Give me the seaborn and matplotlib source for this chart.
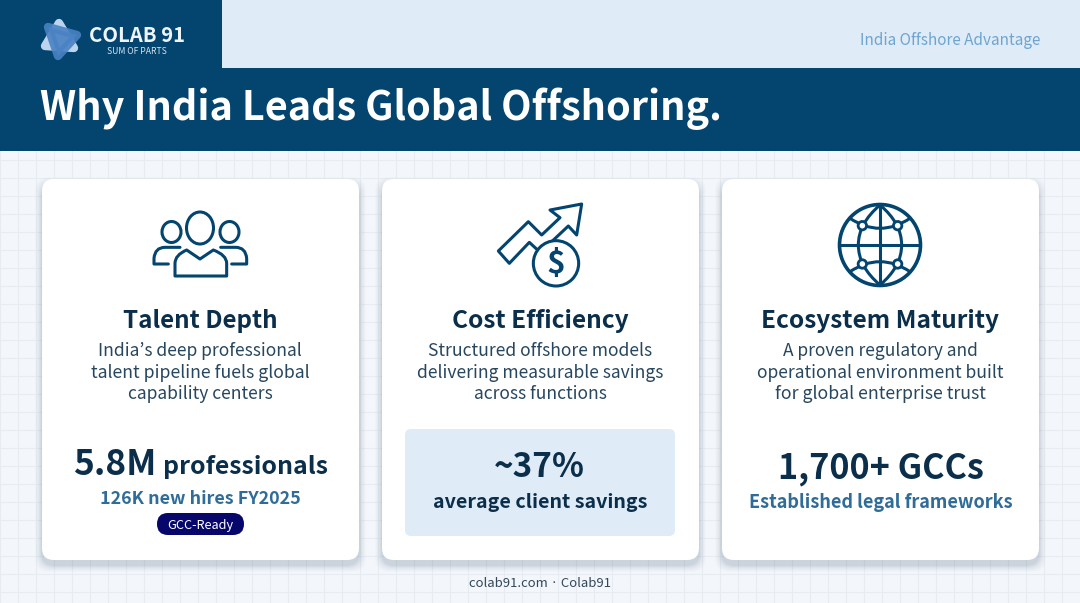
# -*- coding: utf-8 -*-
import numpy as np
import seaborn as sns
import matplotlib
matplotlib.use("Agg")
import matplotlib.pyplot as plt
from matplotlib.patches import FancyBboxPatch, Rectangle, Polygon, Circle, Ellipse, PathPatch
from matplotlib.path import Path

# slide texts
brand = "COLAB 91"
brand_sub = "SUM OF PARTS"
tag = "India Offshore Advantage"
title = "Why India Leads Global Offshoring."
footer = "colab91.com · Colab91"

headings = ["Talent Depth", "Cost Efficiency", "Ecosystem Maturity"]
descriptions = [
    ["India’s deep professional", "talent pipeline fuels global", "capability centers"],
    ["Structured offshore models", "delivering measurable savings", "across functions"],
    ["A proven regulatory and", "operational environment built", "for global enterprise trust"],
]
stat_big = "5.8M"
stat_unit = "professionals"
stat_hires = "126K new hires FY2025"
badge = "GCC-Ready"
stat_savings = "~37%"
stat_savings_note = "average client savings"
stat_gcc = "1,700+ GCCs"
stat_gcc_note = "Established legal frameworks"

NAVY = "#03456f"
INK = "#0b2f4b"
MID = "#2f6c98"

sns.set_theme(style="white")
plt.rcParams["font.family"] = ["Noto Sans CJK KR", "DejaVu Sans"]

fig = plt.figure(figsize=(10.8, 6.03), dpi=100, facecolor="#f3f6fa")
ax = fig.add_axes([0, 0, 1, 1])
ax.set_xlim(0, 1080)
ax.set_ylim(603, 0)
ax.axis("off")
renderer = fig.canvas.get_renderer()


def put(s, x, y, width, color, weight="normal", ha="center"):
    # write text on a baseline and scale it to the pixel width measured on the slide
    t = ax.text(x, y, s, color=color, fontweight=weight, ha=ha, va="baseline", fontsize=20, zorder=10)
    w = t.get_window_extent(renderer).width
    t.set_fontsize(20 * width / w)
    return t


def curve(points, lw=2.2, color=NAVY, ox=0, oy=0, scale=1 / 3, closed=False, face="none", z=6):
    # points: (x, y) corners, or ("c", x1, y1, x2, y2) quadratic piece
    verts, codes = [], []
    for i, p in enumerate(points):
        if p[0] == "c":
            verts += [(ox + p[1] * scale, oy + p[2] * scale), (ox + p[3] * scale, oy + p[4] * scale)]
            codes += [Path.CURVE3, Path.CURVE3]
        else:
            verts.append((ox + p[0] * scale, oy + p[1] * scale))
            codes.append(Path.MOVETO if i == 0 else Path.LINETO)
    if closed:
        verts.append(verts[0])
        codes.append(Path.CLOSEPOLY)
    ax.add_patch(PathPatch(Path(verts, codes), fc=face, ec=color, lw=lw, capstyle="round", joinstyle="round", zorder=z))


# background grid
for gx in np.arange(0, 1080, 18):
    ax.axvline(gx, color="#e7ecf2", lw=0.8, zorder=0)
for gy in np.arange(160, 603, 18):
    ax.axhline(gy, color="#e7ecf2", lw=0.8, zorder=0)

# header
ax.add_patch(Rectangle((0, 0), 1080, 151, fc=NAVY, ec="none", zorder=1))
ax.add_patch(Rectangle((222, 0), 858, 68, fc="#dfebf7", ec="none", zorder=2))
put(tag, 1040, 45, 181, "#6ea5d0", ha="right")
put(title, 40, 120, 682, "white", weight="bold", ha="left")
put(brand, 89, 42, 96, "#eef4fa", weight="bold", ha="left")
put(brand_sub, 136.5, 54, 60, "#d5e3f0", weight="normal")

# logo
ax.add_patch(Polygon([(59, 23), (45, 46), (74, 48)], closed=True, fc="#bcd4ee", ec="#bcd4ee", lw=6, joinstyle="round", zorder=3))
ax.add_patch(Polygon([(48, 27), (77, 35), (58, 56)], closed=True, fc="#4a82c3", ec="#4a82c3", lw=6, joinstyle="round", alpha=0.9, zorder=4))

# cards with a soft shadow under them
card_x = [42, 382, 722]
for cx in card_x:
    for grow, a in zip([7, 6, 5, 4, 3, 2, 1], [0.012, 0.016, 0.02, 0.025, 0.03, 0.04, 0.05]):
        ax.add_patch(FancyBboxPatch((cx - grow, 184 - grow), 317 + 2 * grow, 381 + 2 * grow,
                                    boxstyle="round,pad=0,rounding_size=14", fc="#24476a", ec="none",
                                    alpha=a, zorder=2))
    ax.add_patch(FancyBboxPatch((cx, 179), 317, 381, boxstyle="round,pad=0,rounding_size=12",
                                fc="white", ec="none", zorder=3))

heading_w = [155, 177, 238]
desc_w = [
    [204, 219, 145],
    [224, 246, 133],
    [195, 246, 211],
]
centers = [200, 540, 880]
for c, h, hw, lines, lw_ in zip(centers, headings, heading_w, descriptions, desc_w):
    put(h, c, 328, hw, INK, weight="bold")
    for ln, w, y in zip(lines, lw_, [356, 378, 399]):
        put(ln, c, y, w, "#27465f")

# first card figures
put(stat_big, 73, 475, 83, INK, weight="bold", ha="left")
put(stat_unit, 163, 474, 165, INK, weight="bold", ha="left")
put(stat_hires, 200.5, 504, 201, MID, weight="bold")
ax.add_patch(FancyBboxPatch((157, 513), 87, 22, boxstyle="round,pad=0,rounding_size=11", fc="#06066b", ec="none", zorder=5))
put(badge, 200.5, 529, 66, "white")

# second card figures
ax.add_patch(FancyBboxPatch((405, 429), 270, 107, boxstyle="round,pad=0,rounding_size=6", fc="#dfebf7", ec="none", zorder=4))
put(stat_savings, 539.5, 477, 91, INK, weight="bold")
put(stat_savings_note, 540, 508, 214, INK, weight="bold")

# third card figures
put(stat_gcc, 881, 478, 206, INK, weight="bold")
put(stat_gcc_note, 880.5, 508, 265, MID, weight="bold")

put(footer, 540, 587, 142, "#33475a")

# people icon
ox, oy = 130, 195
ax.add_patch(Ellipse((200, 228), 27, 32, fc="none", ec=NAVY, lw=2.2, zorder=6))
ax.add_patch(Ellipse((171.5, 232), 19, 21, fc="none", ec=NAVY, lw=2.2, zorder=6))
ax.add_patch(Ellipse((229.5, 232), 19, 21, fc="none", ec=NAVY, lw=2.2, zorder=6))
curve([(135, 243), (135, 205), ("c", 135, 180, 170, 165), (210, 192), (250, 165),
       ("c", 290, 180, 290, 205), (290, 243)], ox=ox, oy=oy, closed=True)
curve([(115, 207), (72, 207), (72, 190), ("c", 75, 157, 105, 157), (150, 157)], ox=ox, oy=oy)
curve([(305, 207), (350, 207), (350, 190), ("c", 347, 157, 317, 157), (272, 157)], ox=ox, oy=oy)

# growth icon
ox, oy = 480, 190
curve([(175, 182), (148, 157), (88, 220), (55, 183), (145, 95), (185, 135), (240, 83), (210, 60),
       (305, 42), (290, 135), (265, 108), (215, 155)], ox=ox, oy=oy)
ax.add_patch(Circle((480 + 228 / 3, 190 + 220 / 3), 68 / 3, fc="white", ec=NAVY, lw=2.2, zorder=7))
ax.text(480 + 228 / 3, 190 + 220 / 3 + 0.5, "$", color=NAVY, fontsize=23, fontweight="bold", ha="center", va="center", zorder=8)

# globe icon
ox, oy = 825, 190
gx, gy = 880, 245
ax.add_patch(Circle((gx, gy), 40.5, fc="none", ec=NAVY, lw=2.6, zorder=6))
curve([(165, 45), (165, 285)], ox=ox, oy=oy)
curve([(45, 165), (285, 165)], ox=ox, oy=oy)
curve([(165, 45), ("c", 100, 100, 100, 165), ("c", 100, 230, 165, 285)], ox=ox, oy=oy)
curve([(165, 45), ("c", 230, 100, 230, 165), ("c", 230, 230, 165, 285)], ox=ox, oy=oy)
curve([(75, 85), ("c", 165, 145, 255, 85)], ox=ox, oy=oy)
curve([(75, 245), ("c", 165, 185, 255, 245)], ox=ox, oy=oy)
for zx, zy in [(112, 107), (218, 107), (112, 222), (218, 222)]:
    ax.add_patch(Circle((ox + zx / 3, oy + zy / 3), 4.2, fc="white", ec=NAVY, lw=2.0, zorder=7))

fig.savefig("out.png", dpi=100, facecolor=fig.get_facecolor())
